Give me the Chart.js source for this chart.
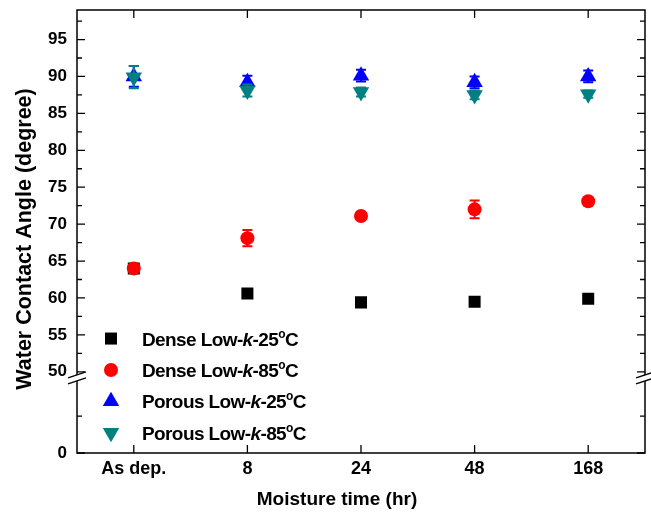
<!DOCTYPE html>
<html><head><meta charset="utf-8">
<script src="https://cdn.jsdelivr.net/npm/chart.js@4.4.1/dist/chart.umd.min.js"></script>
<style>html,body{margin:0;padding:0;background:#fff}</style>
</head><body>
<canvas id="c" width="651" height="513" style="display:block;width:651px;height:513px"></canvas>
<script>
// ---- data ----
const categories = ['As dep.', '8', '24', '48', '168'];
const dense25  = [64.0, 60.6, 59.4, 59.5, 59.9];
const dense85  = [64.0, 68.1, 71.1, 72.0, 73.1];
const porous25 = [90.0, 89.2, 90.1, 89.2, 90.0];
const porous85 = [89.9, 88.1, 87.9, 87.5, 87.6];
const dense25Err  = [0.3, 0.3, 0.3, 0.6, 0.3];
const dense85Err  = [0.5, 1.1, 0.4, 1.2, 0.4];
const porous25Err = [1.4, 0.9, 0.8, 0.8, 0.8];
const porous85Err = [1.5, 0.8, 0.6, 0.6, 0.5];
// broken axis: lower segment shown compressed; value 39 on the linear scale carries the label "0"
const yMajorTicks  = [39, 50, 55, 60, 65, 70, 75, 80, 85, 90, 95];
const yMajorLabels = ['0', '50', '55', '60', '65', '70', '75', '80', '85', '90', '95'];
const yMinorTicks  = [44, 52.5, 57.5, 62.5, 67.5, 72.5, 77.5, 82.5, 87.5, 92.5, 97.5];
const yMin = 39, yMax = 99, yBreakAt = 49.3;
const xTitle = 'Moisture time (hr)';
const yTitle = 'Water Contact Angle (degree)';
const legendLabels = [
  ['Dense Low-', 'k', '-25', 'o', 'C'],
  ['Dense Low-', 'k', '-85', 'o', 'C'],
  ['Porous Low-', 'k', '-25', 'o', 'C'],
  ['Porous Low-', 'k', '-85', 'o', 'C']
];

const FONT = "'Liberation Sans', Arial, sans-serif";

const series = [
  {data: dense25,  err: dense25Err,  color: '#000000', style: 'rect',     radius: 8.5, rot: 0,   order: 4},
  {data: dense85,  err: dense85Err,  color: '#ff0000', style: 'circle',   radius: 7,   rot: 0,   order: 3},
  {data: porous25, err: porous25Err, color: '#0000ff', style: 'triangle', radius: 9.5, rot: 0,   order: 2},
  {data: porous85, err: porous85Err, color: '#008080', style: 'triangle', radius: 9.5, rot: 180, order: 1}
];

const decor = {
  id: 'decor',
  afterDatasetDraw(chart, args) {
    const ctx = chart.ctx;
    const xs = chart.scales.x, ys = chart.scales.y;
    const s = series[args.index];
    const ds = chart.data.datasets[args.index];
    ctx.save();
    ctx.strokeStyle = s.color;
    ctx.lineWidth = 2;
    ds.data.forEach((v, i) => {
      const e = s.err[i];
      const x = xs.getPixelForValue(i);
      const y1 = ys.getPixelForValue(v + e), y2 = ys.getPixelForValue(v - e);
      ctx.beginPath();
      ctx.moveTo(x, y1); ctx.lineTo(x, y2);
      ctx.moveTo(x - 5, y1); ctx.lineTo(x + 5, y1);
      ctx.moveTo(x - 5, y2); ctx.lineTo(x + 5, y2);
      ctx.stroke();
    });
    ctx.restore();
  },
  afterDatasetsDraw(chart) {
    const ctx = chart.ctx;
    const a = chart.chartArea;
    const xs = chart.scales.x, ys = chart.scales.y;
    ctx.save();
    // frame
    ctx.strokeStyle = '#000';
    ctx.lineWidth = 1.5;
    ctx.strokeRect(a.left, a.top, a.right - a.left, a.bottom - a.top);
    // ticks (inward)
    ctx.lineWidth = 1.3;
    ctx.beginPath();
    yMajorTicks.forEach(v => {
      const y = ys.getPixelForValue(v);
      ctx.moveTo(a.left, y); ctx.lineTo(a.left + 8, y);
      ctx.moveTo(a.right, y); ctx.lineTo(a.right - 8, y);
    });
    yMinorTicks.forEach(v => {
      const y = ys.getPixelForValue(v);
      ctx.moveTo(a.left, y); ctx.lineTo(a.left + 5, y);
      ctx.moveTo(a.right, y); ctx.lineTo(a.right - 5, y);
    });
    categories.forEach((c, i) => {
      const x = xs.getPixelForValue(i);
      ctx.moveTo(x, a.bottom); ctx.lineTo(x, a.bottom - 8);
      ctx.moveTo(x, a.top); ctx.lineTo(x, a.top + 8);
    });
    ctx.stroke();
    // axis breaks
    const yb = ys.getPixelForValue(yBreakAt);
    [a.left, a.right].forEach(x => {
      ctx.fillStyle = '#fff';
      ctx.beginPath();
      ctx.moveTo(x - 9, yb + 1); ctx.lineTo(x + 9, yb - 5);
      ctx.lineTo(x + 9, yb + 1); ctx.lineTo(x - 9, yb + 7);
      ctx.closePath(); ctx.fill();
      ctx.strokeStyle = '#000'; ctx.lineWidth = 1.3;
      ctx.beginPath();
      ctx.moveTo(x - 9, yb + 1); ctx.lineTo(x + 9, yb - 5);
      ctx.moveTo(x - 9, yb + 7); ctx.lineTo(x + 9, yb + 1);
      ctx.stroke();
    });
    // legend
    const lx = a.left + 34, tx = a.left + 65;
    const ly0 = ys.getPixelForValue(54.5), dy = 31.4;
    series.forEach((s, i) => {
      const y = ly0 + i * dy;
      ctx.fillStyle = s.color; ctx.strokeStyle = s.color;
      Chart.helpers.drawPoint(ctx, {pointStyle: s.style, radius: s.radius, rotation: s.rot, borderWidth: 0}, lx, y);
      const parts = legendLabels[i];
      let x = tx;
      ctx.fillStyle = '#000';
      ctx.textBaseline = 'alphabetic';
      ctx.textAlign = 'left';
      ctx.letterSpacing = '-0.6px';
      const base = y + 7;
      const fonts = ['bold 19px ' + FONT, 'italic bold 19px ' + FONT, 'bold 19px ' + FONT, 'bold 12px ' + FONT, 'bold 19px ' + FONT];
      const off = [0, 0, 0, -8, 0];
      parts.forEach((p, k) => {
        ctx.font = fonts[k];
        ctx.fillText(p, x, base + off[k]);
        x += ctx.measureText(p).width;
      });
      ctx.letterSpacing = '0px';
    });
    // axis titles
    ctx.fillStyle = '#000';
    ctx.textAlign = 'center';
    ctx.textBaseline = 'middle';
    ctx.font = 'bold 19px ' + FONT;
    ctx.fillText(xTitle, 337, 500);
    ctx.save();
    ctx.translate(25, 239);
    ctx.rotate(-Math.PI / 2);
    ctx.font = 'bold 21.5px ' + FONT;
    ctx.fillText(yTitle, 0, 0);
    ctx.restore();
    ctx.restore();
  }
};

new Chart(document.getElementById('c'), {
  type: 'scatter',
  data: {
    labels: categories,
    datasets: series.map((s, i) => ({
      label: legendLabels[i].join(''),
      data: s.data,
      order: s.order,
      pointStyle: s.style,
      pointRadius: s.radius,
      pointRotation: s.rot,
      pointBackgroundColor: s.color,
      pointBorderColor: s.color,
      pointBorderWidth: 0,
      showLine: false
    }))
  },
  options: {
    responsive: false,
    animation: false,
    devicePixelRatio: 1,
    layout: {autoPadding: false, padding: {top: 10, right: 6, left: 0, bottom: 0}},
    plugins: {legend: {display: false}, tooltip: {enabled: false}},
    scales: {
      x: {
        type: 'category',
        offset: true,
        grid: {display: false, drawTicks: false},
        border: {display: false},
        ticks: {color: '#000', font: {family: FONT, size: 18, weight: 'bold'}, padding: 5, autoSkip: false, maxRotation: 0},
        afterFit(scale) { scale.height = 60; scale.paddingLeft = 0; scale.paddingRight = 0; }
      },
      y: {
        type: 'linear',
        min: yMin, max: yMax,
        grid: {display: false, drawTicks: false},
        border: {display: false},
        afterBuildTicks(scale) {
          scale.ticks = yMajorTicks.concat(yMinorTicks).map(v => ({value: v}));
        },
        ticks: {
          color: '#000', font: {family: FONT, size: 17, weight: 'bold'}, padding: 10, autoSkip: false,
          callback(v) { const k = yMajorTicks.indexOf(v); return k >= 0 ? yMajorLabels[k] : ''; }
        },
        afterFit(scale) { scale.width = 77; scale.paddingTop = 0; scale.paddingBottom = 0; }
      }
    }
  },
  plugins: [decor]
});
</script>
</body></html>
